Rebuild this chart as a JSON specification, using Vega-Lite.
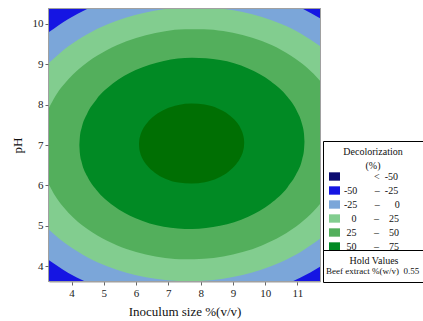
{
  "$schema": "https://vega.github.io/schema/vega-lite/v6.json",
  "width": 271,
  "height": 272,
  "autosize": {"type": "none"},
  "padding": {"left": 49, "top": 9, "right": 103, "bottom": 40},
  "background": "white",
  "view": {"fill": "#1515e3", "stroke": "#a0a0a0", "strokeWidth": 2},
  "config": {
    "font": "Liberation Serif",
    "axis": {
      "labelFont": "Liberation Serif", "labelFontSize": 11, "labelColor": "#222222",
      "titleFont": "Liberation Serif", "titleFontSize": 13, "titleFontWeight": "normal", "titleColor": "#111111",
      "tickColor": "#666666", "tickSize": 4, "tickWidth": 1,
      "domainColor": "#a0a0a0", "domainWidth": 2, "grid": false, "labelPadding": 2, "zindex": 1
    },
    "legend": {
      "labelFont": "Liberation Serif", "titleFont": "Liberation Serif", "titleFontWeight": "normal",
      "labelColor": "#111111", "titleColor": "#111111"
    }
  },
  "layer": [
    {
      "data": {"values": [{"level": "-50 \u2013 -25"}]},
      "mark": {"type": "rect", "color": "#1515e3", "opacity": 1},
      "encoding": {}
    },
    {
      "data": {
        "values": [
          {"level": "-25 \u2013 0", "x": 3.3, "lo": 4.150, "hi": 9.790},
          {"level": "-25 \u2013 0", "x": 3.9, "lo": 3.840, "hi": 10.114},
          {"level": "-25 \u2013 0", "x": 4.5, "lo": 3.600, "hi": 10.368},
          {"level": "-25 \u2013 0", "x": 5.1, "lo": 3.414, "hi": 10.568},
          {"level": "-25 \u2013 0", "x": 5.7, "lo": 3.274, "hi": 10.720},
          {"level": "-25 \u2013 0", "x": 6.3, "lo": 3.177, "hi": 10.832},
          {"level": "-25 \u2013 0", "x": 6.9, "lo": 3.116, "hi": 10.906},
          {"level": "-25 \u2013 0", "x": 7.5, "lo": 3.092, "hi": 10.942},
          {"level": "-25 \u2013 0", "x": 8.1, "lo": 3.103, "hi": 10.945},
          {"level": "-25 \u2013 0", "x": 8.7, "lo": 3.149, "hi": 10.913},
          {"level": "-25 \u2013 0", "x": 9.3, "lo": 3.232, "hi": 10.845},
          {"level": "-25 \u2013 0", "x": 9.9, "lo": 3.352, "hi": 10.737},
          {"level": "-25 \u2013 0", "x": 10.5, "lo": 3.515, "hi": 10.587},
          {"level": "-25 \u2013 0", "x": 11.1, "lo": 3.726, "hi": 10.390},
          {"level": "-25 \u2013 0", "x": 11.7, "lo": 3.994, "hi": 10.134},

          {"level": "0 \u2013 25", "x": 3.3, "lo": 4.909, "hi": 9.031},
          {"level": "0 \u2013 25", "x": 3.9, "lo": 4.514, "hi": 9.440},
          {"level": "0 \u2013 25", "x": 4.5, "lo": 4.223, "hi": 9.745},
          {"level": "0 \u2013 25", "x": 5.1, "lo": 4.006, "hi": 9.977},
          {"level": "0 \u2013 25", "x": 5.7, "lo": 3.844, "hi": 10.150},
          {"level": "0 \u2013 25", "x": 6.3, "lo": 3.733, "hi": 10.275},
          {"level": "0 \u2013 25", "x": 6.9, "lo": 3.664, "hi": 10.358},
          {"level": "0 \u2013 25", "x": 7.5, "lo": 3.636, "hi": 10.398},
          {"level": "0 \u2013 25", "x": 8.1, "lo": 3.647, "hi": 10.401},
          {"level": "0 \u2013 25", "x": 8.7, "lo": 3.698, "hi": 10.364},
          {"level": "0 \u2013 25", "x": 9.3, "lo": 3.790, "hi": 10.286},
          {"level": "0 \u2013 25", "x": 9.9, "lo": 3.926, "hi": 10.162},
          {"level": "0 \u2013 25", "x": 10.5, "lo": 4.112, "hi": 9.990},
          {"level": "0 \u2013 25", "x": 11.1, "lo": 4.359, "hi": 9.757},
          {"level": "0 \u2013 25", "x": 11.7, "lo": 4.684, "hi": 9.444},

          {"level": "25 \u2013 50", "x": 3.3, "lo": 6.020, "hi": 7.921},
          {"level": "25 \u2013 50", "x": 3.5, "lo": 5.733, "hi": 8.213},
          {"level": "25 \u2013 50", "x": 3.7, "lo": 5.511, "hi": 8.439},
          {"level": "25 \u2013 50", "x": 3.9, "lo": 5.328, "hi": 8.626},
          {"level": "25 \u2013 50", "x": 4.5, "lo": 4.917, "hi": 9.051},
          {"level": "25 \u2013 50", "x": 5.1, "lo": 4.633, "hi": 9.349},
          {"level": "25 \u2013 50", "x": 5.7, "lo": 4.431, "hi": 9.563},
          {"level": "25 \u2013 50", "x": 6.3, "lo": 4.294, "hi": 9.714},
          {"level": "25 \u2013 50", "x": 6.9, "lo": 4.211, "hi": 9.811},
          {"level": "25 \u2013 50", "x": 7.5, "lo": 4.175, "hi": 9.859},
          {"level": "25 \u2013 50", "x": 8.1, "lo": 4.188, "hi": 9.860},
          {"level": "25 \u2013 50", "x": 8.7, "lo": 4.247, "hi": 9.815},
          {"level": "25 \u2013 50", "x": 9.3, "lo": 4.356, "hi": 9.720},
          {"level": "25 \u2013 50", "x": 9.9, "lo": 4.520, "hi": 9.568},
          {"level": "25 \u2013 50", "x": 10.5, "lo": 4.753, "hi": 9.349},
          {"level": "25 \u2013 50", "x": 11.1, "lo": 5.075, "hi": 9.041},
          {"level": "25 \u2013 50", "x": 11.3, "lo": 5.210, "hi": 8.910},
          {"level": "25 \u2013 50", "x": 11.5, "lo": 5.363, "hi": 8.761},
          {"level": "25 \u2013 50", "x": 11.7, "lo": 5.541, "hi": 8.587},

          {"level": "50 \u2013 75", "x": 4.241, "lo": 7.001, "hi": 7.001},
          {"level": "50 \u2013 75", "x": 4.258, "lo": 6.790, "hi": 7.212},
          {"level": "50 \u2013 75", "x": 4.311, "lo": 6.581, "hi": 7.423},
          {"level": "50 \u2013 75", "x": 4.485, "lo": 6.227, "hi": 7.781},
          {"level": "50 \u2013 75", "x": 4.764, "lo": 5.893, "hi": 8.121},
          {"level": "50 \u2013 75", "x": 5.288, "lo": 5.503, "hi": 8.523},
          {"level": "50 \u2013 75", "x": 5.986, "lo": 5.189, "hi": 8.851},
          {"level": "50 \u2013 75", "x": 6.858, "lo": 4.983, "hi": 9.077},
          {"level": "50 \u2013 75", "x": 7.73, "lo": 4.926, "hi": 9.154},
          {"level": "50 \u2013 75", "x": 8.602, "lo": 5.003, "hi": 9.097},
          {"level": "50 \u2013 75", "x": 9.475, "lo": 5.229, "hi": 8.891},
          {"level": "50 \u2013 75", "x": 10.172, "lo": 5.557, "hi": 8.577},
          {"level": "50 \u2013 75", "x": 10.696, "lo": 5.959, "hi": 8.187},
          {"level": "50 \u2013 75", "x": 10.975, "lo": 6.299, "hi": 7.853},
          {"level": "50 \u2013 75", "x": 11.149, "lo": 6.657, "hi": 7.499},
          {"level": "50 \u2013 75", "x": 11.202, "lo": 6.868, "hi": 7.290},
          {"level": "50 \u2013 75", "x": 11.219, "lo": 7.079, "hi": 7.079},

          {"level": "> 75", "x": 6.090, "lo": 7.017, "hi": 7.017},
          {"level": "> 75", "x": 6.098, "lo": 6.918, "hi": 7.116},
          {"level": "> 75", "x": 6.123, "lo": 6.820, "hi": 7.214},
          {"level": "> 75", "x": 6.204, "lo": 6.654, "hi": 7.382},
          {"level": "> 75", "x": 6.335, "lo": 6.498, "hi": 7.540},
          {"level": "> 75", "x": 6.579, "lo": 6.316, "hi": 7.728},
          {"level": "> 75", "x": 6.905, "lo": 6.169, "hi": 7.883},
          {"level": "> 75", "x": 7.313, "lo": 6.072, "hi": 7.988},
          {"level": "> 75", "x": 7.720, "lo": 6.046, "hi": 8.024},
          {"level": "> 75", "x": 8.128, "lo": 6.082, "hi": 7.998},
          {"level": "> 75", "x": 8.535, "lo": 6.187, "hi": 7.901},
          {"level": "> 75", "x": 8.861, "lo": 6.342, "hi": 7.754},
          {"level": "> 75", "x": 9.106, "lo": 6.530, "hi": 7.572},
          {"level": "> 75", "x": 9.236, "lo": 6.689, "hi": 7.416},
          {"level": "> 75", "x": 9.317, "lo": 6.856, "hi": 7.250},
          {"level": "> 75", "x": 9.342, "lo": 6.954, "hi": 7.152},
          {"level": "> 75", "x": 9.350, "lo": 7.053, "hi": 7.053}
        ]
      },
      "encoding": {
        "x": {
          "field": "x", "type": "quantitative",
          "scale": {"domain": [3.3, 11.7], "nice": false, "zero": false},
          "axis": {"title": "Inoculum size %(v/v)", "values": [4, 5, 6, 7, 8, 9, 10, 11], "titlePadding": 7}
        },
        "y": {
          "field": "hi", "type": "quantitative", "stack": null,
          "scale": {"domain": [3.64, 10.36], "nice": false, "zero": false},
          "axis": {"title": "pH", "values": [4, 5, 6, 7, 8, 9, 10], "titlePadding": 8}
        },
        "y2": {"field": "lo"},
        "color": {
          "field": "level", "type": "nominal",
          "scale": {
            "domain": ["< -50", "-50 \u2013 -25", "-25 \u2013 0", "0 \u2013 25", "25 \u2013 50", "50 \u2013 75", "> 75"],
            "range": ["#0b0b70", "#1515e3", "#7ba6d9", "#82cd8f", "#53af5c", "#018a24", "#006f03"]
          },
          "legend": {
            "orient": "none", "legendX": 274, "legendY": 132,
            "title": ["Decolorization", "(%)"],
            "titleAnchor": "middle", "titleFontSize": 10, "titleLineHeight": 14, "titlePadding": 0,
            "values": ["< -50", "-50 \u2013 -25", "-25 \u2013 0", "0 \u2013 25", "25 \u2013 50", "50 \u2013 75"],
            "symbolType": "M-1,-0.76H1V0.76H-1Z", "symbolSize": 121, "symbolStrokeWidth": 0, "symbolOpacity": 1,
            "labelFontSize": 10, "labelOffset": 4, "rowPadding": 3,
            "padding": 6, "strokeColor": "#000000", "fillColor": "#ffffff",
            "labelExpr": "datum.label === '< -50' ? '\u200b\u00a0\u00a0\u00a0\u00a0\u00a0\u00a0\u00a0\u00a0\u00a0\u00a0\u00a0\u00a0<\u00a0\u00a0-50\u00a0\u00a0\u00a0\u00a0\u00a0\u00a0\u00a0\u00a0\u200b' : datum.label === '-50 \u2013 -25' ? '-50\u00a0\u00a0\u00a0\u00a0\u00a0\u00a0\u00a0\u2013\u00a0\u00a0-25' : datum.label === '-25 \u2013 0' ? '-25\u00a0\u00a0\u00a0\u00a0\u00a0\u00a0\u00a0\u2013\u00a0\u00a0\u00a0\u00a0\u00a0\u00a00' : datum.label === '0 \u2013 25' ? '\u200b\u00a0\u00a0\u00a00\u00a0\u00a0\u00a0\u00a0\u00a0\u00a0\u00a0\u2013\u00a0\u00a0\u00a0\u00a025' : datum.label === '25 \u2013 50' ? '\u200b\u00a025\u00a0\u00a0\u00a0\u00a0\u00a0\u00a0\u00a0\u2013\u00a0\u00a0\u00a0\u00a050' : '\u200b\u00a050\u00a0\u00a0\u00a0\u00a0\u00a0\u00a0\u00a0\u2013\u00a0\u00a0\u00a0\u00a075'"
          }
        }
      },
      "layer": [
        {"transform": [{"filter": {"field": "level", "equal": "-25 \u2013 0"}}], "mark": {"type": "area", "orient": "vertical", "interpolate": "monotone", "clip": true, "opacity": 1}},
        {"transform": [{"filter": {"field": "level", "equal": "0 \u2013 25"}}], "mark": {"type": "area", "orient": "vertical", "interpolate": "monotone", "clip": true, "opacity": 1}},
        {"transform": [{"filter": {"field": "level", "equal": "25 \u2013 50"}}], "mark": {"type": "area", "orient": "vertical", "interpolate": "monotone", "clip": true, "opacity": 1}},
        {"transform": [{"filter": {"field": "level", "equal": "50 \u2013 75"}}], "mark": {"type": "area", "orient": "vertical", "interpolate": "monotone", "clip": true, "opacity": 1}},
        {"transform": [{"filter": {"field": "level", "equal": "> 75"}}], "mark": {"type": "area", "orient": "vertical", "interpolate": "monotone", "clip": true, "opacity": 1}}
      ]
    },
    {
      "data": {"values": [{"hold": "Beef extract %(w/v)\u00a0\u00a00.55"}]},
      "mark": {"type": "point", "opacity": 0},
      "encoding": {
        "shape": {
          "field": "hold", "type": "nominal",
          "legend": {
            "orient": "none", "legendX": 274, "legendY": 241,
            "title": "Hold Values", "titleAnchor": "middle", "titleFontSize": 10, "titlePadding": 0,
            "symbolOpacity": 0, "symbolSize": 0, "symbolStrokeWidth": 0,
            "labelFontSize": 9, "labelOffset": -12, "padding": 6,
            "strokeColor": "#000000", "fillColor": "#ffffff"
          }
        }
      }
    }
  ]
}
